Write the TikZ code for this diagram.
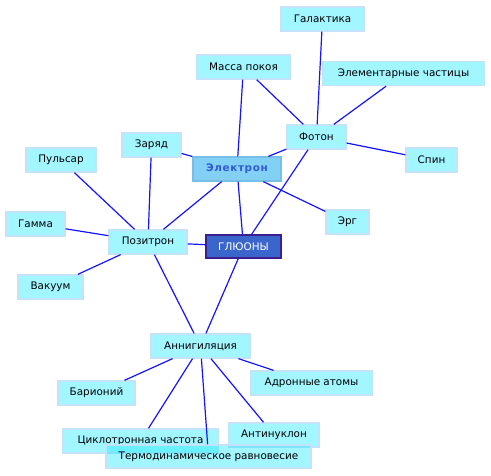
\documentclass[tikz,border=0pt]{standalone}
\usepackage{fontspec}
\setmainfont{DejaVu Sans}
\newfontfamily\elfont[LetterSpace=6]{DejaVu Sans Bold}
\definecolor{boxfill}{RGB}{10,232,255}
\definecolor{boxline}{RGB}{196,226,250}
\definecolor{edgeblue}{RGB}{20,20,255}
\definecolor{elfill}{RGB}{130,208,244}
\definecolor{elline}{RGB}{120,190,230}
\definecolor{eltext}{RGB}{50,90,210}
\definecolor{glfill}{RGB}{58,102,204}
\definecolor{glline}{RGB}{60,30,140}
\tikzset{
  bx/.style={draw=boxline, line width=1.3pt, fill=boxfill, fill opacity=0.38, text opacity=1,
    minimum height=24pt, inner sep=0pt, font=\fontsize{10.4}{12}\selectfont},
  el/.style={draw=elline, line width=1.3pt, fill=elfill, minimum height=24pt, inner sep=0pt,
    text=eltext, font=\fontsize{10.4}{12}\selectfont\elfont},
  gl/.style={draw=glline, line width=1.2pt, fill=glfill, minimum height=23pt, inner sep=0pt,
    text=white, font=\fontsize{10.4}{12}\selectfont},
  ln/.style={draw=edgeblue, line width=1.2pt}
}
\begin{document}
\begin{tikzpicture}[x=1pt,y=-1pt]
\useasboundingbox (0,0) rectangle (491,475);
\node[bx, minimum width=83pt] (gal) at (322.5,19) {Галактика};
\node[bx, minimum width=93pt] (mass) at (243.5,67) {Масса покоя};
\node[bx, minimum width=161pt] (elem) at (403.5,73.5) {Элементарные частицы};
\node[bx, minimum width=59pt] (foton) at (316.5,137) {Фотон};
\node[bx, minimum width=59pt] (zar) at (151.5,145) {Заряд};
\node[el, minimum width=88pt] (elek) at (237,169) {Электрон};
\node[bx, minimum width=51pt] (spin) at (431.5,160) {Спин};
\node[bx, minimum width=70pt] (puls) at (61,160) {Пульсар};
\node[bx, minimum width=59pt] (gam) at (35.5,224) {Гамма};
\node[bx, minimum width=43pt] (erg) at (347.5,222) {Эрг};
\node[bx, minimum width=78pt] (poz) at (148,242) {Позитрон};
\node[gl, minimum width=75pt] (glu) at (243.5,246.5) {ГЛЮОНЫ};
\node[bx, minimum width=65pt] (vak) at (50.5,287) {Вакуум};
\node[bx, minimum width=99pt] (ann) at (200.5,346) {Аннигиляция};
\node[bx, minimum width=121pt] (adr) at (311.5,383) {Адронные атомы};
\node[bx, minimum width=77pt] (bar) at (96.5,393) {Барионий};
\node[bx, minimum width=90pt] (anti) at (274,435) {Антинуклон};
\node[bx, minimum width=155pt] (cikl) at (140.5,441) {Циклотронная частота};
\node[bx, minimum width=205pt, minimum height=23pt] (term) at (208.5,456.5) {Термодинамическое равновесие};
\draw[ln] (gal) -- (foton);
\draw[ln] (mass) -- (foton);
\draw[ln] (mass) -- (elek);
\draw[ln] (elem) -- (foton);
\draw[ln] (foton) -- (elek);
\draw[ln] (foton) -- (spin);
\draw[ln] (foton) -- (glu);
\draw[ln] (zar) -- (elek);
\draw[ln] (zar) -- (poz);
\draw[ln] (elek) -- (erg);
\draw[ln] (elek) -- (poz);
\draw[ln] (elek) -- (glu);
\draw[ln] (puls) -- (poz);
\draw[ln] (gam) -- (poz);
\draw[ln] (poz) -- (glu);
\draw[ln] (vak) -- (poz);
\draw[ln] (poz) -- (ann);
\draw[ln] (glu) -- (ann);
\draw[ln] (ann) -- (bar);
\draw[ln] (ann) -- (adr);
\draw[ln] (ann) -- (cikl);
\draw[ln] (ann) -- (term);
\draw[ln] (ann) -- (anti);
\end{tikzpicture}
\end{document}
